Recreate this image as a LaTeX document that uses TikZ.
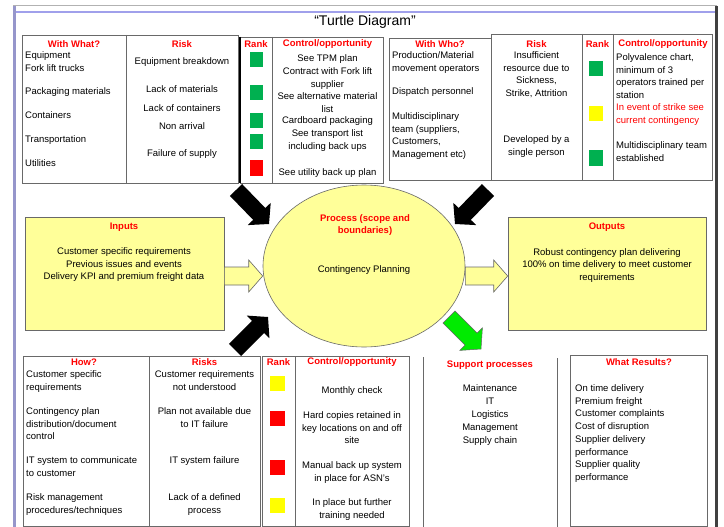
\documentclass[tikz,border=0pt]{standalone}
\usepackage{fontspec}
\setmainfont{Liberation Sans}
\usetikzlibrary{calc,shapes.geometric}
\definecolor{rkgreen}{RGB}{0,176,80}
\definecolor{rkred}{RGB}{255,0,0}
\definecolor{rkyellow}{RGB}{255,255,0}
\definecolor{paleyel}{RGB}{255,255,153}
\definecolor{hdrred}{RGB}{255,0,0}
\definecolor{frameblue}{RGB}{160,160,235}
\definecolor{cellgray}{RGB}{105,105,105}
\definecolor{brightgreen}{RGB}{0,235,0}
% #1 style, #2 tail coord, #3 tip coord, #4 shaft half width, #5 head half width, #6 head length
\newcommand{\myblockarrow}[6]{%
  \coordinate (#2-neck) at ($(#3)!#6!(#2)$);
  \path[#1] ($(#2)!#4!90:(#3)$) -- ($(#2-neck)!#4!90:(#3)$) -- ($(#2-neck)!#5!90:(#3)$) -- (#3)
    -- ($(#2-neck)!#5!-90:(#3)$) -- ($(#2-neck)!#4!-90:(#3)$) -- ($(#2)!#4!-90:(#3)$) -- cycle;
}
\begin{document}
\begin{tikzpicture}[x=1pt,y=-1pt,
  every node/.style={inner sep=0pt},
  txt/.style={font=\fontsize{9.5}{12.5}\selectfont, align=left},
  ctxt/.style={font=\fontsize{9.5}{12.5}\selectfont, align=center},
  hdr/.style={font=\fontsize{9.5}{12}\selectfont\bfseries, text=hdrred, align=center},
  cell/.style={draw=cellgray, line width=0.8pt},
  sq/.style={minimum width=13pt, minimum height=15pt},
  yelbox/.style={draw=cellgray, line width=0.6pt, fill=paleyel}]
\useasboundingbox (0,0) rectangle (724,527);
% frame
\fill[white] (0,0) rectangle (724,527);
\draw[gray!60, line width=1pt] (13,6) -- (717,6);
\draw[frameblue, line width=2.5pt] (14,12) -- (716,12);
\draw[frameblue!70!gray, line width=3pt] (14,6) -- (14,530);
\draw[black!75, line width=3pt] (716,6) -- (716,530);
\node[font=\fontsize{14}{16}\selectfont] (title) at (365,22) {“Turtle Diagram”};

% ---------- top left tables ----------
\draw[cell] (22,35) rectangle (238,183);
\draw[cell] (126,35) -- (126,183);
\node[hdr] (hWithWhat) at (74,44) {With What?};
\node[txt, anchor=north west] (ww1) at (25,51.5) {Equipment\\Fork lift trucks};
\node[txt, anchor=north west] (ww2) at (25,87.5) {Packaging materials};
\node[txt, anchor=north west] (ww3) at (25,111.5) {Containers};
\node[txt, anchor=north west] (ww4) at (25,135.5) {Transportation};
\node[txt, anchor=north west] (ww5) at (25,159.5) {Utilities};
\node[hdr] (hRisk1) at (182,44) {Risk};
\node[ctxt, anchor=north] (rk1) at (182,57.5) {Equipment breakdown};
\node[ctxt, anchor=north] (rk2) at (182,85.5) {Lack of materials};
\node[ctxt, anchor=north] (rk3) at (182,104.5) {Lack of containers};
\node[ctxt, anchor=north] (rk4) at (182,122.5) {Non arrival};
\node[ctxt, anchor=north] (rk5) at (182,149.5) {Failure of supply};

\draw[cell] (240,37) rectangle (383,183);
\draw[black, line width=1.2pt] (240,37) -- (240,183);
\draw[cell] (272,37) -- (272,183);
\node[hdr] (hRank1) at (256,44) {Rank};
\node[sq, fill=rkgreen] (s11) at (256,60) {};
\node[sq, fill=rkgreen] (s12) at (256,93) {};
\node[sq, fill=rkgreen] (s13) at (256,121) {};
\node[sq, fill=rkgreen] (s14) at (256,142) {};
\node[sq, fill=rkred] (s15) at (256,168) {};
\node[hdr] (hCtrl1) at (327.5,44) {Control/opportunity};
\node[ctxt, anchor=north] (c11) at (327.5,54.5) {See TPM plan};
\node[ctxt, anchor=north] (c12) at (327.5,67.5) {Contract with Fork lift\\supplier};
\node[ctxt, anchor=north] (c13) at (327.5,92.5) {See alternative material\\list};
\node[ctxt, anchor=north] (c14) at (327.5,116.5) {Cardboard packaging};
\node[ctxt, anchor=north] (c15) at (327.5,129.5) {See transport list\\including back ups};
\node[ctxt, anchor=north] (c16) at (327.5,168.5) {See utility back up plan};

% ---------- top right tables ----------
\draw[cell] (389,38) rectangle (491,180);
\node[hdr] (hWithWho) at (440,44) {With Who?};
\node[txt, anchor=north west] (wh1) at (392,51.5) {Production/Material\\movement operators};
\node[txt, anchor=north west] (wh2) at (392,87.5) {Dispatch personnel};
\node[txt, anchor=north west] (wh3) at (392,112.5) {Multidisciplinary\\team (suppliers,\\Customers,\\Management etc)};

\draw[cell] (491,34) rectangle (712,180);
\draw[cell] (582,34) -- (582,180);
\draw[cell] (613,34) -- (613,180);
\node[hdr] (hRisk2) at (536.5,44) {Risk};
\node[ctxt, anchor=north] (rr1) at (536.5,51.5) {Insufficient\\resource due to\\Sickness,\\Strike, Attrition};
\node[ctxt, anchor=north] (rr2) at (536.5,135.5) {Developed by a\\single person};
\node[hdr] (hRank2) at (597.5,44) {Rank};
\node[sq, minimum width=14pt, fill=rkgreen] (s21) at (596,69) {};
\node[sq, minimum width=14pt, fill=rkyellow] (s22) at (596,114) {};
\node[sq, minimum width=14pt, fill=rkgreen] (s23) at (596,158) {};
\node[hdr] (hCtrl2) at (663,44) {Control/opportunity};
\node[txt, anchor=north west] (c21) at (616,53.5) {Polyvalence chart,\\minimum of 3\\operators trained per\\station};
\node[txt, anchor=north west, text=hdrred] (c22) at (616,103.5) {In event of strike see\\current contingency};
\node[txt, anchor=north west] (c23) at (616,141.5) {Multidisciplinary team\\established};

% ---------- middle row ----------
\node[yelbox, minimum width=199pt, minimum height=113pt] (inputs) at (124.5,273.5) {};
\node[hdr] (hInputs) at (124,227) {Inputs};
\node[ctxt, anchor=north] (inTxt) at (124,247.5) {Customer specific requirements\\Previous issues and events\\Delivery KPI and premium freight data};

\node[ellipse, draw=cellgray, line width=0.6pt, fill=paleyel, minimum width=202pt, minimum height=162pt] (proc) at (364,266) {};
\node[hdr] (hProc) at (365,225) {Process (scope and\\boundaries)};
\node[ctxt] (procTxt) at (364,270) {Contingency Planning};

\node[yelbox, minimum width=198pt, minimum height=113pt] (outputs) at (607,273.5) {};
\node[hdr] (hOutputs) at (607,227) {Outputs};
\node[ctxt, anchor=north] (outTxt) at (607,248) {Robust contingency plan delivering\\100\% on time delivery to meet customer\\requirements};

% block arrows
\coordinate (inA) at (inputs.east |- 0,276);
\coordinate (inB) at (proc.west |- 0,276);
\myblockarrow{fill=paleyel, draw=cellgray, line width=0.6pt}{inA}{inB}{9pt}{16pt}{14pt}
\coordinate (outA) at (proc.east |- 0,276);
\coordinate (outB) at (outputs.west |- 0,276);
\myblockarrow{fill=paleyel, draw=cellgray, line width=0.6pt}{outA}{outB}{9pt}{16pt}{14pt}

\coordinate (tlA) at (236,190);
\coordinate (tlB) at (269,224);
\myblockarrow{fill=black}{tlA}{tlB}{8.5pt}{16pt}{14pt}
\coordinate (trA) at (488,190);
\coordinate (trB) at (455,224);
\myblockarrow{fill=black}{trA}{trB}{8.5pt}{16pt}{14pt}
\coordinate (blA) at (235,350);
\coordinate (blB) at (268,317);
\myblockarrow{fill=black}{blA}{blB}{8.5pt}{16pt}{14pt}
\coordinate (grA) at (449,317);
\coordinate (grB) at (481,349);
\myblockarrow{fill=brightgreen, draw=black!60, line width=0.5pt}{grA}{grB}{8.5pt}{16pt}{14pt}

% ---------- bottom tables ----------
\draw[cell] (23,356) rectangle (260,526);
\draw[cell] (149,356) -- (149,526);
\node[hdr] (hHow) at (84,362) {How?};
\node[txt, anchor=north west] (hw1) at (26,370.5) {Customer specific\\requirements};
\node[txt, anchor=north west] (hw2) at (26,407.5) {Contingency plan\\distribution/document\\control};
\node[txt, anchor=north west] (hw3) at (26,456.5) {IT system to communicate\\to customer};
\node[txt, anchor=north west] (hw4) at (26,493.5) {Risk management\\procedures/techniques};
\node[hdr] (hRisks) at (204.5,362) {Risks};
\node[ctxt, anchor=north] (bs1) at (204.5,370.5) {Customer requirements\\not understood};
\node[ctxt, anchor=north] (bs2) at (204.5,407.5) {Plan not available due\\to IT failure};
\node[ctxt, anchor=north] (bs3) at (204.5,456.5) {IT system failure};
\node[ctxt, anchor=north] (bs4) at (204.5,493.5) {Lack of a defined\\process};

\draw[cell] (262,356) rectangle (409,526);
\draw[cell] (295,356) -- (295,526);
\node[hdr] (hRank3) at (278.5,362) {Rank};
\node[sq, minimum width=15pt, fill=rkyellow] (s31) at (277.5,383) {};
\node[sq, minimum width=15pt, fill=rkred] (s32) at (277.5,418) {};
\node[sq, minimum width=15pt, fill=rkred] (s33) at (277.5,467) {};
\node[sq, minimum width=15pt, fill=rkyellow] (s34) at (277.5,505) {};
\node[hdr] (hCtrl3) at (352,362) {Control/opportunity};
\node[ctxt, anchor=north] (c31) at (352,386.5) {Monthly check};
\node[ctxt, anchor=north] (c32) at (352,411.5) {Hard copies retained in\\key locations on and off\\site};
\node[ctxt, anchor=north] (c33) at (352,461.5) {Manual back up system\\in place for ASN's};
\node[ctxt, anchor=north] (c34) at (352,498.5) {In place but further\\training needed};

% support processes
\draw[cell] (423,357) -- (423,527);
\draw[cell] (557,358) -- (557,527);
\node[hdr] (hSupport) at (490,365) {Support processes};
\node[ctxt, anchor=north, font=\fontsize{9.5}{13}\selectfont] (sup) at (490,384.5) {Maintenance\\IT\\Logistics\\Management\\Supply chain};

% what results
\draw[cell] (570,355) rectangle (707,526);
\node[hdr] (hResults) at (639,362) {What Results?};
\node[txt, anchor=north west, font=\fontsize{9.5}{12.7}\selectfont] (res) at (575,384.5) {On time delivery\\Premium freight\\Customer complaints\\Cost of disruption\\Supplier delivery\\performance\\Supplier quality\\performance};
\end{tikzpicture}
\end{document}
